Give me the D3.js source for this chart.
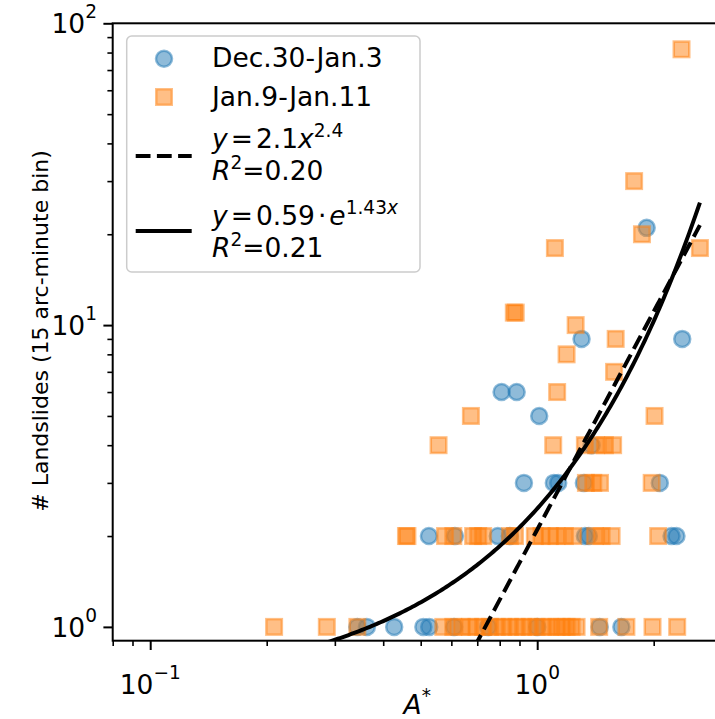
<!DOCTYPE html>
<html>
<head>
<meta charset="utf-8">
<script src="https://cdn.jsdelivr.net/npm/d3@7"></script>
<style>
body { margin: 0; background: #fff; }
svg text { font-family: "DejaVu Sans", sans-serif; fill: #000; }
</style>
</head>
<body>
<div id="chart"></div>
<script>
// Dec.30-Jan.3 (blue circles)
var decX = [1.918, 1.302, 2.37, 0.809, 0.885, 1.012, 1.382,
            0.924, 1.104, 1.133, 1.32, 2.074,
            0.525, 0.613, 0.791, 0.85, 1.328, 1.36, 2.224, 2.29,
            0.343, 0.363, 0.427, 0.508, 0.526, 0.61, 0.747, 1.0, 1.45, 1.65];
var decY = [21, 9, 9, 6, 6, 5, 4,
            3, 3, 3, 3, 3,
            2, 2, 2, 2, 2, 2, 2, 2,
            1, 1, 1, 1, 1, 1, 1, 1, 1, 1];

// Jan.9-Jan.11 (orange squares)
var janX = [2.36, 1.78, 1.865, 2.633, 1.111, 0.87, 0.88, 1.257, 1.595, 1.191, 1.58, 1.126, 0.674, 2.01,
            0.556, 1.10, 1.328, 1.42, 1.496, 1.571,
            1.336, 1.396, 1.453, 1.976,
            0.458, 0.462, 0.578, 0.607, 0.683, 0.704, 0.725, 0.85, 0.876, 0.986, 1.026, 1.078, 1.122, 1.179, 1.239, 1.409, 1.467, 1.557, 2.054,
            0.209, 0.286, 0.343, 0.572, 0.607, 0.638, 0.670, 0.697, 0.725, 0.755, 0.786, 0.817, 0.850, 0.885, 0.920, 0.957, 0.996,
            1.036, 1.078, 1.122, 1.156, 1.191, 1.227, 1.264, 1.446, 1.70, 1.986, 2.30];
var janY = [82, 30, 20, 18, 18, 11, 11, 10, 9, 8, 7, 6, 5, 5,
            4, 4, 4, 4, 4, 4,
            3, 3, 3, 3,
            2, 2, 2, 2, 2, 2, 2, 2, 2, 2, 2, 2, 2, 2, 2, 2, 2, 2, 2,
            1, 1, 1, 1, 1, 1, 1, 1, 1, 1, 1, 1, 1, 1, 1, 1, 1, 1,
            1, 1, 1, 1, 1, 1, 1, 1, 1, 1, 1];

// fit parameters (from legend)
var powA = 2.1, powB = 2.4, powR2 = "0.20";
var expA = 0.59, expB = 1.43, expR2 = "0.21";

var xTicks = [0.1, 1], xTickExp = ["\u22121", "0"];
var yTicks = [1, 10, 100], yTickExp = ["0", "1", "2"];

var W = 715, H = 719;
var pL = 112.7, pT = 23.3, pB = 640.7;
var fs = 26.5;

var x = d3.scaleLog().domain([0.08, 3]).range([pL, pL + 387 * Math.log10(3 / 0.08)]);
var y = d3.scaleLog().domain([0.9, 100]).range([pB, pT]);
var pR = x(3);

var svg = d3.select("#chart").append("svg")
  .attr("width", W).attr("height", H);

svg.append("defs").append("clipPath").attr("id", "clip")
  .append("rect").attr("x", pL).attr("y", pT)
  .attr("width", pR - pL).attr("height", pB - pT);

var plot = svg.append("g").attr("clip-path", "url(#clip)");

// markers
var blue = "#1f77b4", orange = "#ff7f0e";
var dec = decX.map(function(v, i) { return {x: v, y: decY[i]}; });
var jan = janX.map(function(v, i) { return {x: v, y: janY[i]}; });

plot.selectAll(".dec").data(dec).enter().append("circle")
  .attr("cx", function(d) { return x(d.x); })
  .attr("cy", function(d) { return y(d.y); })
  .attr("r", 8)
  .attr("fill", blue).attr("fill-opacity", 0.5)
  .attr("stroke", blue).attr("stroke-opacity", 0.5).attr("stroke-width", 2.5);

var sq = 15.5;
plot.selectAll(".jan").data(jan).enter().append("rect")
  .attr("x", function(d) { return x(d.x) - sq / 2; })
  .attr("y", function(d) { return y(d.y) - sq / 2; })
  .attr("width", sq).attr("height", sq)
  .attr("fill", orange).attr("fill-opacity", 0.5)
  .attr("stroke", orange).attr("stroke-opacity", 0.5).attr("stroke-width", 2.5);

// fit curves over data range
var allX = decX.concat(janX);
var xr = d3.extent(allX);
var xs = d3.range(0, 201).map(function(i) {
  return Math.exp(Math.log(xr[0]) + (Math.log(xr[1]) - Math.log(xr[0])) * i / 200);
});
var line = d3.line().x(function(d) { return x(d[0]); }).y(function(d) { return y(d[1]); });

plot.append("path")
  .attr("d", line(xs.map(function(v) { return [v, powA * Math.pow(v, powB)]; })))
  .attr("fill", "none").attr("stroke", "#000").attr("stroke-width", 4)
  .attr("stroke-dasharray", "14.8,6.4");
plot.append("path")
  .attr("d", line(xs.map(function(v) { return [v, expA * Math.exp(expB * v)]; })))
  .attr("fill", "none").attr("stroke", "#000").attr("stroke-width", 4);

// axes: ticks
var xMinor = [0.08, 0.09, 0.2, 0.3, 0.4, 0.5, 0.6, 0.7, 0.8, 0.9, 2, 3];
var yMinor = [2, 3, 4, 5, 6, 7, 8, 9, 20, 30, 40, 50, 60, 70, 80, 90];

var xAxis = d3.axisBottom(x).tickValues(xTicks).tickFormat("").tickSizeOuter(0).tickSizeInner(9.3);
var xAxisMinor = d3.axisBottom(x).tickValues(xMinor).tickFormat("").tickSizeOuter(0).tickSizeInner(5.3);
var yAxis = d3.axisLeft(y).tickValues(yTicks).tickFormat("").tickSizeOuter(0).tickSizeInner(9.3);
var yAxisMinor = d3.axisLeft(y).tickValues(yMinor).tickFormat("").tickSizeOuter(0).tickSizeInner(5.3);

function styleAxis(g, w) {
  g.select(".domain").remove();
  g.selectAll(".tick line").attr("stroke", "#000").attr("stroke-width", w);
}
svg.append("g").attr("transform", "translate(0," + pB + ")").call(xAxis).call(styleAxis, 2);
svg.append("g").attr("transform", "translate(0," + pB + ")").call(xAxisMinor).call(styleAxis, 1.6);
svg.append("g").attr("transform", "translate(" + pL + ",0)").call(yAxis).call(styleAxis, 2);
svg.append("g").attr("transform", "translate(" + pL + ",0)").call(yAxisMinor).call(styleAxis, 1.6);

// spines
svg.append("rect").attr("x", pL).attr("y", pT)
  .attr("width", pR - pL).attr("height", pB - pT)
  .attr("fill", "none").attr("stroke", "#000").attr("stroke-width", 2);

// tick labels
xTicks.forEach(function(v, i) {
  var t = svg.append("text").attr("x", x(v)).attr("y", 694)
    .attr("text-anchor", "middle").style("font-size", fs + "px");
  t.append("tspan").text("10");
  t.append("tspan").attr("dy", -15).style("font-size", (fs * 0.7) + "px").text(xTickExp[i]);
});
yTicks.forEach(function(v, i) {
  var t = svg.append("text").attr("x", 97).attr("y", y(v) + 10)
    .attr("text-anchor", "end").style("font-size", fs + "px");
  t.append("tspan").text("10");
  t.append("tspan").attr("dy", -15).style("font-size", (fs * 0.7) + "px").text(yTickExp[i]);
});

// axis labels
var xl = svg.append("text").attr("x", (pL + pR) / 2).attr("y", 714)
  .attr("text-anchor", "middle").style("font-size", fs + "px");
xl.append("tspan").style("font-style", "italic").text("A");
xl.append("tspan").attr("dy", -12).style("font-size", (fs * 0.7) + "px").text("*");

svg.append("text")
  .attr("transform", "translate(48," + 331 + ") rotate(-90)")
  .attr("text-anchor", "middle").style("font-size", "22px")
  .text("# Landslides (15 arc-minute bin)");

// legend
var lg = svg.append("g");
lg.append("rect").attr("x", 126.7).attr("y", 36).attr("width", 293.3).attr("height", 236)
  .attr("rx", 5).attr("fill", "#fff").attr("fill-opacity", 0.8)
  .attr("stroke", "#cccccc").attr("stroke-width", 1.5);

lg.append("circle").attr("cx", 164).attr("cy", 58.7).attr("r", 8)
  .attr("fill", blue).attr("fill-opacity", 0.5)
  .attr("stroke", blue).attr("stroke-opacity", 0.5).attr("stroke-width", 2.5);
lg.append("rect").attr("x", 164 - sq / 2).attr("y", 97 - sq / 2).attr("width", sq).attr("height", sq)
  .attr("fill", orange).attr("fill-opacity", 0.5)
  .attr("stroke", orange).attr("stroke-opacity", 0.5).attr("stroke-width", 2.5);
lg.append("line").attr("x1", 135.7).attr("x2", 191.7).attr("y1", 156).attr("y2", 156)
  .attr("stroke", "#000").attr("stroke-width", 4).attr("stroke-dasharray", "14.8,6.4");
lg.append("line").attr("x1", 135.7).attr("x2", 191.7).attr("y1", 231).attr("y2", 231)
  .attr("stroke", "#000").attr("stroke-width", 4);

// parts: it = italic, sup = start superscript, supc = keep superscript, down = back to baseline
function legText(yb, parts) {
  var t = lg.append("text").attr("x", 212).attr("y", yb).style("font-size", fs + "px");
  parts.forEach(function(p) {
    var s = t.append("tspan").text(p.t);
    if (p.it) s.style("font-style", "italic");
    if (p.sup) s.attr("dy", -11);
    if (p.sup || p.supc) s.style("font-size", (fs * 0.7) + "px");
    if (p.down) s.attr("dy", 11);
    if (p.dx) s.attr("dx", p.dx);
  });
}
legText(67.3, [{t: "Dec.30-Jan.3"}]);
legText(105.5, [{t: "Jan.9-Jan.11"}]);
legText(148.3, [{t: "y", it: true}, {t: "=", dx: 3}, {t: powA.toFixed(1), dx: 3}, {t: "x", it: true},
                {t: powB.toFixed(1), sup: true}]);
legText(180, [{t: "R", it: true}, {t: "2", sup: true}, {t: "=", down: true}, {t: powR2}]);
legText(225, [{t: "y", it: true}, {t: "=", dx: 3}, {t: expA.toFixed(2), dx: 3}, {t: "\u00b7", dx: 3},
              {t: "e", it: true, dx: 3}, {t: expB.toFixed(2), sup: true}, {t: "x", it: true, supc: true}]);
legText(256.7, [{t: "R", it: true}, {t: "2", sup: true}, {t: "=", down: true}, {t: expR2}]);
</script>
</body>
</html>
